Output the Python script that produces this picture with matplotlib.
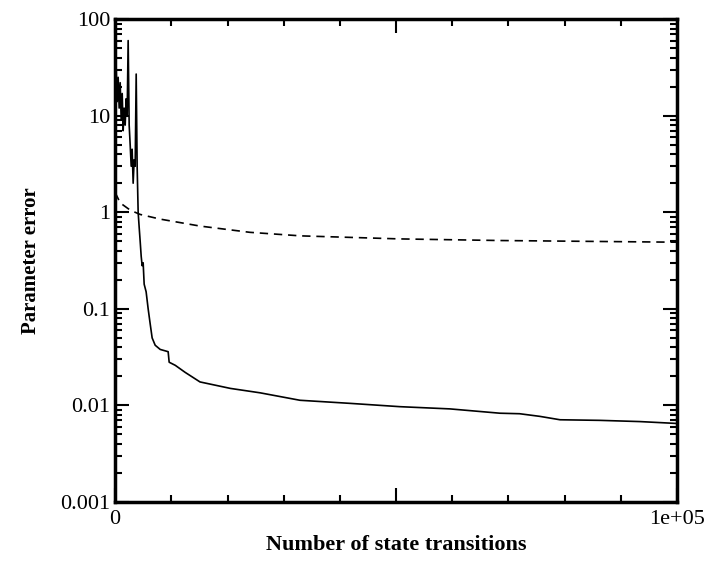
import matplotlib
matplotlib.use('Agg')
import matplotlib.pyplot as plt
from matplotlib.ticker import MultipleLocator, FixedLocator, LogLocator, NullFormatter

#--------------数据---------------------
# 实线：参数误差（噪声大，快速下降）
solid_x = [0, 180, 360, 530, 710, 890, 1070, 1250, 1420, 1600, 1780, 1960, 2130,
           2310, 2490, 2670, 2850, 3020, 3200, 3380, 3560, 3740, 3910, 4090, 4270,
           4450, 4630, 4800, 4980, 5160, 5510, 5870, 6230, 6580, 7120, 8010, 9430,
           9610, 10700, 12450, 15100, 20500, 25800, 32900, 41800, 50700, 59600,
           68500, 72000, 75600, 79200, 86300, 93400, 100000]
solid_y = [18, 30, 14, 25, 12, 22, 9, 17, 7, 12, 8, 15, 10,
           60, 8, 5, 3, 4.5, 2, 3.5, 3, 27, 3, 1.0, 0.7,
           0.5, 0.35, 0.28, 0.3, 0.18, 0.15, 0.1, 0.07, 0.05, 0.042, 0.038, 0.036,
           0.028, 0.026, 0.022, 0.0175, 0.015, 0.0135, 0.0113, 0.0105, 0.0097, 0.0092,
           0.0083, 0.0082, 0.0077, 0.0071, 0.0070, 0.0068, 0.0065]

# 虚线：平滑下降
dash_x = [0, 900, 2700, 4450, 8000, 15100, 24000, 33000, 50700, 68500, 100000]
dash_y = [1.6, 1.25, 1.05, 0.95, 0.85, 0.72, 0.62, 0.57, 0.53, 0.51, 0.49]

plt.rcParams['font.family'] = ['Liberation Serif', 'DejaVu Serif']

fig = plt.figure(figsize=(7.11, 5.64), dpi=100)
ax = fig.add_axes([0.162, 0.110, 0.790, 0.856])

ax.plot(solid_x, solid_y, color='black', lw=1.2)
ax.plot(dash_x, dash_y, color='black', lw=1.2, linestyle=(0, (5, 3.5)))

ax.set_yscale('log')
ax.set_xlim(0, 100000)
ax.set_ylim(0.001, 100)

# x轴刻度
ax.xaxis.set_major_locator(FixedLocator([0, 50000, 100000]))
ax.xaxis.set_minor_locator(MultipleLocator(10000))
ax.set_xticklabels(['0', '', '1e+05'])

# y轴刻度
ax.yaxis.set_major_locator(FixedLocator([0.001, 0.01, 0.1, 1, 10, 100]))
ax.set_yticklabels(['0.001', '0.01', '0.1', '1', '10', '100'])
ax.yaxis.set_minor_locator(LogLocator(base=10, subs=range(2, 10), numticks=20))
ax.yaxis.set_minor_formatter(NullFormatter())

ax.tick_params(which='both', direction='in', top=True, right=True, labelsize=16, width=1.5)
ax.tick_params(which='major', length=10)
ax.tick_params(which='minor', length=5)
ax.tick_params(axis='x', which='major', pad=6)

for s in ax.spines.values():
    s.set_linewidth(2.5)

ax.set_xlabel('Number of state transitions', fontsize=16, fontweight='bold', labelpad=4)
ax.set_ylabel('Parameter error', fontsize=15, fontweight='bold', labelpad=14)

fig.savefig('out.png', dpi=100)
